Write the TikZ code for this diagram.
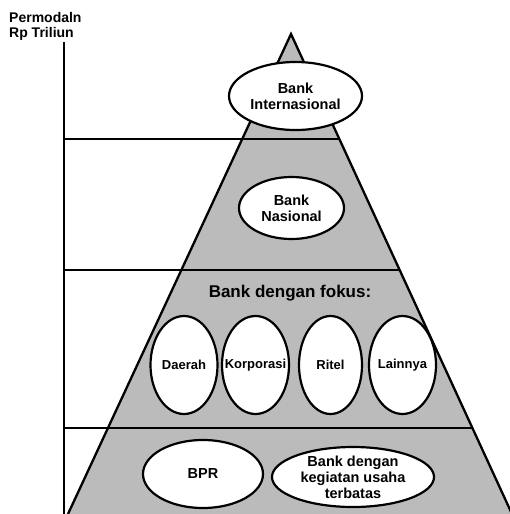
\documentclass[tikz,border=0pt]{standalone}
\usepackage{fontspec}
\setmainfont{Liberation Sans}
\usetikzlibrary{shapes.geometric,positioning}
\definecolor{pyrgray}{RGB}{187,187,187}
\tikzset{
  tri/.style={fill=pyrgray, draw=black, line width=2.3pt, line join=miter},
  lvl/.style={draw=black, line width=2.3pt},
  oval/.style={ellipse, draw=black, fill=white, line width=2.2pt, inner sep=0pt},
  ovsm/.style={oval, minimum width=67pt, minimum height=98pt},
  lbl/.style={align=center, inner sep=0pt, font=\bfseries\fontsize{14.5}{16}\selectfont},
  lblsm/.style={lbl, font=\bfseries\fontsize{13}{15}\selectfont},
  ttl/.style={font=\bfseries\fontsize{17}{19}\selectfont},
  axlab/.style={font=\bfseries\fontsize{14}{15}\selectfont, align=left,
                inner sep=0pt, anchor=north west},
}

\begin{document}
\begin{tikzpicture}[x=1pt, y=-1pt]
  \useasboundingbox (0,0) rectangle (510,514);
  \clip (0,0) rectangle (510,514);
  % pyramid
  \coordinate (apex) at (291,34);
  \coordinate (bl) at (68,514);
  \coordinate (br) at (512,514);
  \filldraw[tri] (bl) -- (apex) -- (br);
  % axis and levels
  \coordinate (ax0) at (64,42);
  \coordinate (ax1) at (64,514);
  \draw[lvl] (ax0) -- (ax1);
  \foreach \y/\xr in {139/340, 270/400, 428/472.5}
    \draw[lvl] (64,\y) -- (\xr,\y);
  \node[axlab] (axlab) at (9,12.5) {Permodaln\\Rp Triliun};

  % ovals
  \node[oval, minimum width=133pt, minimum height=68pt] (intl) at (295.5,96) {};
  \node[oval, minimum width=105pt, minimum height=62pt] (nas) at (291.5,208) {};
  \node[ovsm] (daerah) at (184,365) {};
  \node[ovsm] (korp) at (255.5,365) {};
  \node[ovsm, minimum width=63pt] (ritel) at (330.5,365) {};
  \node[ovsm] (lain) at (402.5,365) {};
  \node[oval, minimum width=120pt, minimum height=68pt] (bpr) at (203,474) {};
  \node[oval, minimum width=162pt, minimum height=60pt] (terbatas) at (353,477) {};

  % labels
  \node[lbl] at (intl) {Bank\\Internasional};
  \node[lbl] at (nas) {Bank\\Nasional};
  \node[ttl] (fokus) at (290,293) {Bank dengan fokus:};
  \node[lblsm] at (daerah) {Daerah};
  \node[lblsm] at (korp) {Korporasi};
  \node[lblsm] at (ritel) {Ritel};
  \node[lblsm] at (lain) {Lainnya};
  \node[lbl] at (bpr) {BPR};
  \node[lbl] at (terbatas) {Bank dengan\\kegiatan usaha\\terbatas};
\end{tikzpicture}
\end{document}
